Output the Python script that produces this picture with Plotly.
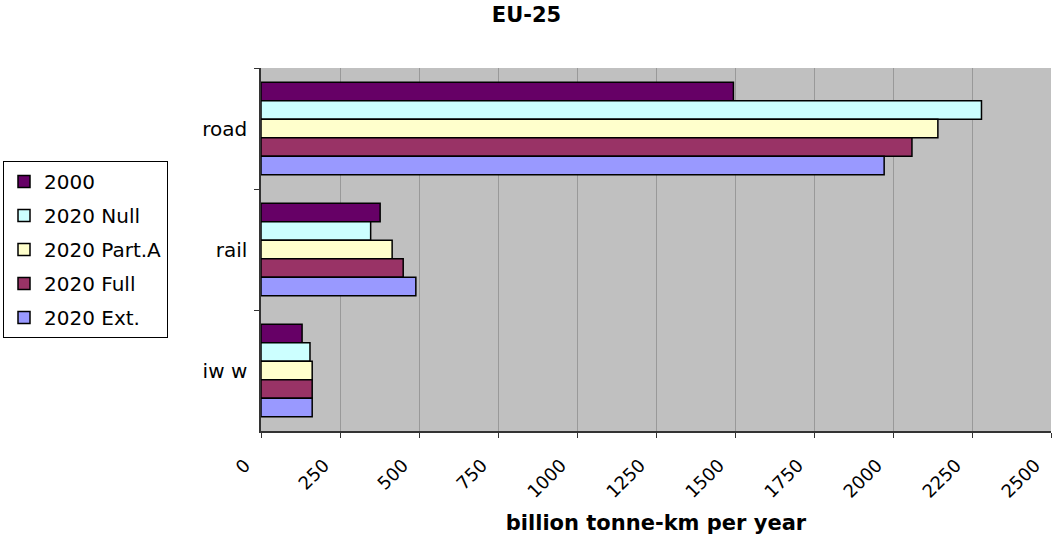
import plotly.graph_objects as go

categories = ["road", "rail", "iw w"]
series_names = ["2000", "2020 Null", "2020 Part.A", "2020 Full", "2020 Ext."]
values = {
    "2000":        [1495, 377, 130],
    "2020 Null":   [2280, 347, 155],
    "2020 Part.A": [2142, 415, 162],
    "2020 Full":   [2060, 450, 162],
    "2020 Ext.":   [1972, 490, 162],
}
colors = ["#660066", "#CCFFFF", "#FFFFCC", "#993366", "#9999FF"]
x_ticks = [0, 250, 500, 750, 1000, 1250, 1500, 1750, 2000, 2250, 2500]

FONT = "DejaVu Sans"

fig = go.Figure()
for name, col in zip(series_names, colors):
    fig.add_trace(go.Bar(
        y=categories, x=values[name], name=name, orientation="h",
        marker=dict(color=col, line=dict(color="black", width=1.5)),
        legendgroup=name,
    ))

fig.update_layout(
    width=1053, height=535,
    margin=dict(l=261, r=2, t=68, b=104),
    paper_bgcolor="white",
    plot_bgcolor="#C0C0C0",
    barmode="group",
    bargap=0.235,
    bargroupgap=0,
    font=dict(family=FONT, color="black", size=20),
    title=dict(text="<b>EU-25</b>", x=0.5, xref="container", xanchor="center",
               y=1 - 15 / 535, yanchor="middle",
               font=dict(family=FONT, size=21, color="black")),
    legend=dict(
        xref="container", yref="container",
        x=3 / 1053, y=1 - 161 / 535, xanchor="left", yanchor="top",
        bgcolor="white", bordercolor="black", borderwidth=1,
        font=dict(family=FONT, size=20, color="black"),
        traceorder="grouped", tracegroupgap=5,
        itemwidth=30,
    ),
    xaxis=dict(
        range=[0, 2500], tickvals=x_ticks, ticktext=[str(v) for v in x_ticks],
        tickangle=-45, tickfont=dict(family=FONT, size=18, color="black"),
        ticklabeloverflow="allow",
        ticklabelshift=-16, ticklabelstandoff=10,
        showgrid=True, gridcolor="#999999", gridwidth=1,
        ticks="outside", ticklen=5, tickcolor="#333333",
        showline=True, linecolor="#333333", linewidth=1.5,
        zeroline=False,
        title=dict(text="<b>billion tonne-km per year</b>",
                   font=dict(family=FONT, size=21, color="black"), standoff=16),
    ),
    yaxis=dict(
        categoryorder="array", categoryarray=categories,
        autorange="reversed",
        tickson="boundaries", ticks="outside", ticklen=5, tickcolor="#333333",
        showline=True, linecolor="#333333", linewidth=1.5,
        showgrid=False,
        tickfont=dict(family=FONT, size=20, color="black"),
        ticklabelstandoff=8,
    ),
)

fig.write_html("out.html")
